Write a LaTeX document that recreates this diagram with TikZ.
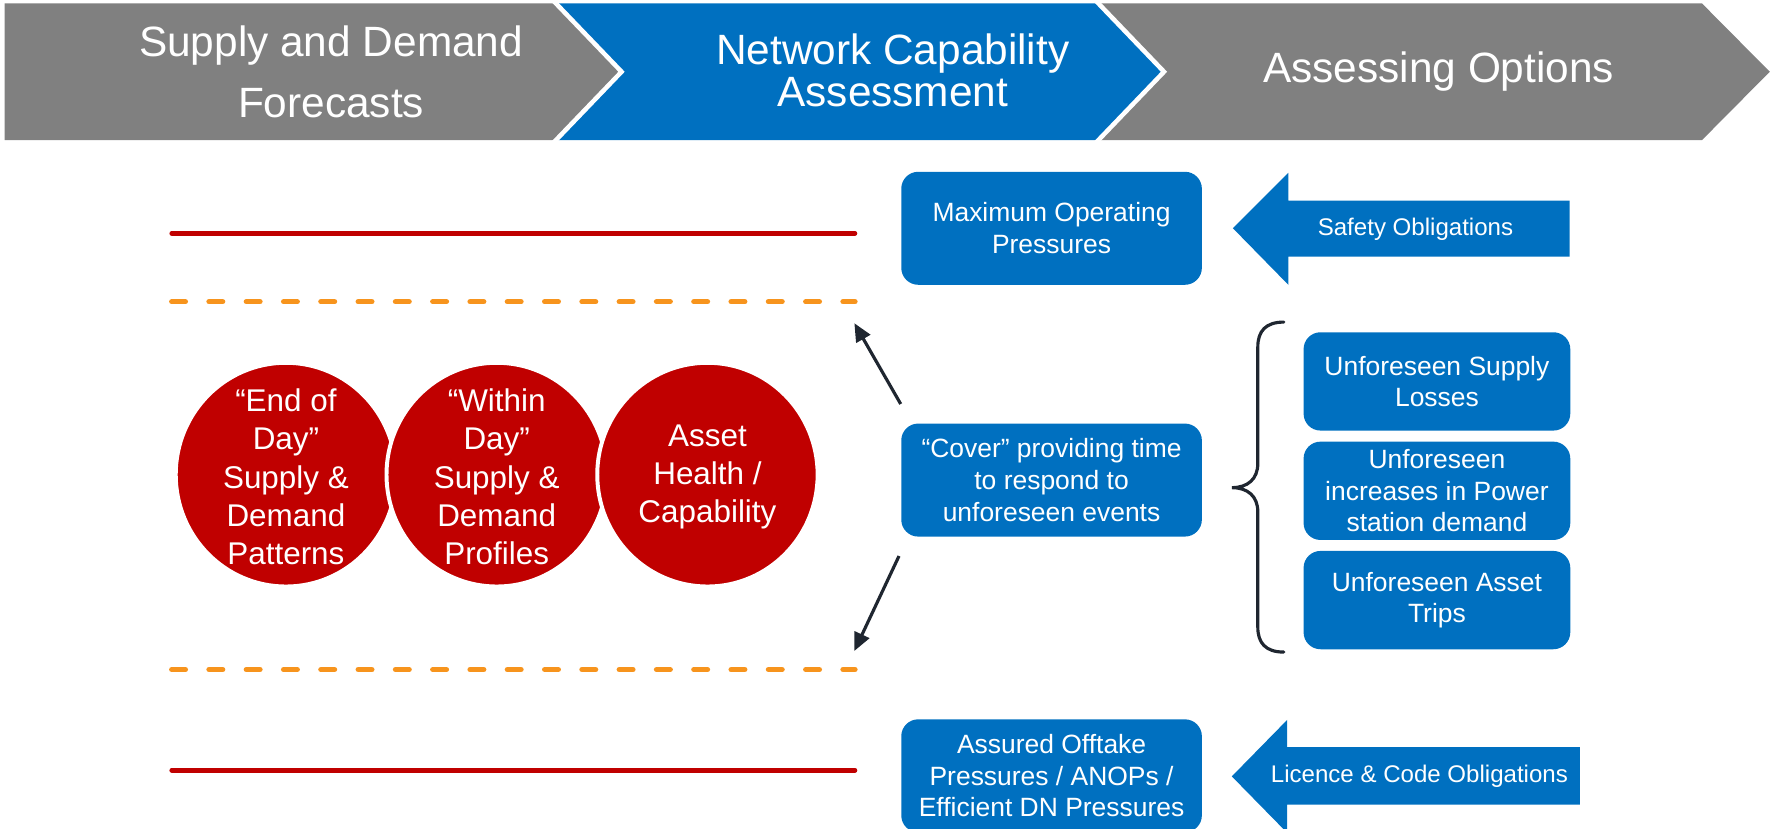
\documentclass[tikz,border=0pt]{standalone}
\usepackage{fontspec}
\setmainfont{Liberation Sans}
\usetikzlibrary{arrows.meta}
\definecolor{cblue}{HTML}{0070C0}
\definecolor{cgrey}{HTML}{808080}
\definecolor{cred}{HTML}{C00000}
\definecolor{corange}{HTML}{F7941D}
\definecolor{cdark}{HTML}{1F2630}
\begin{document}
\begin{tikzpicture}[x=1pt,y=-1pt,
  hdr/.style={text=white, align=center, inner sep=0pt, font=\fontsize{37.5}{54}\selectfont},
  hdrtwo/.style={hdr, font=\fontsize{37.5}{37}\selectfont},
  bbox/.style={fill=cblue, rounded corners=15pt, text=white, align=center, inner sep=0pt,
    font=\fontsize{23.4}{28}\selectfont, minimum width=266pt, minimum height=100pt},
  rbox/.style={bbox, minimum width=236pt, minimum height=87pt},
  arrtext/.style={text=white, inner sep=0pt, font=\fontsize{21.3}{26}\selectfont},
  circfill/.style={fill=cred, draw=white, line width=3.5pt},
  ctext/.style={text=white, align=center, inner sep=0pt, font=\fontsize{27.8}{34}\selectfont},
  redline/.style={draw=cred, line width=4.2pt, line cap=round},
  orangeline/.style={draw=corange, line width=4.8pt, line cap=round, dash pattern=on 12pt off 21pt},
  blkarrow/.style={draw=cdark, line width=2.8pt, -{Triangle[length=16pt,width=14pt]}},
  bracestyle/.style={draw=cdark, line width=2.8pt, line cap=round},
  sep/.style={draw=white, line width=4pt}
]
\useasboundingbox (0,0) rectangle (1568,733.5);
\clip (0,0) rectangle (1568,733.5);

% header chevrons
\fill[cgrey] (4,3) -- (490,3) -- (550,63.5) -- (490,124) -- (4,124) -- cycle;
\fill[cblue] (490,3) -- (970,3) -- (1030,63.5) -- (970,124) -- (490,124) -- (550,63.5) -- cycle;
\fill[cgrey] (970,3) -- (1506,3) -- (1566,63.5) -- (1506,124) -- (970,124) -- (1030,63.5) -- cycle;
\draw[sep] (490,1) -- (550,63.5) -- (490,126);
\draw[sep] (970,1) -- (1030,63.5) -- (970,126);
\node[hdr] (h1) at (293,63.5) {Supply and Demand\\Forecasts};
\node[hdrtwo] (h2) at (790,62) {Network Capability\\Assessment};
\node[hdr] (h3) at (1273,63.5) {Assessing Options};

% horizontal lines
\draw[redline] (152,206.5) -- (756.5,206.5);
\draw[orangeline] (152,267) -- (756.5,267);
\draw[orangeline] (152,592.5) -- (756.5,592.5);
\draw[redline] (152,681.5) -- (756.5,681.5);

% circles
\filldraw[circfill] (253,420) ellipse [x radius=97.5pt, y radius=99pt];
\node[ctext] (c1) at (253,422) {“End of\\Day”\\Supply \&\\Demand\\Patterns};
\filldraw[circfill] (439.5,420) ellipse [x radius=97.5pt, y radius=99pt];
\node[ctext] (c2) at (439.5,422) {“Within\\Day”\\Supply \&\\Demand\\Profiles};
\filldraw[circfill] (626,420) ellipse [x radius=97.5pt, y radius=99pt];
\node[ctext] (c3) at (626,422) {Asset\\Health /\\Capability};

% central boxes
\node[bbox] (mop) at (930.5,202) {Maximum Operating\\Pressures};
\node[bbox] (cover) at (930.5,424.8) {“Cover” providing time\\to respond to\\unforeseen events};
\node[bbox] (aop) at (930.5,686.5) {Assured Offtake\\Pressures / ANOPs /\\Efficient DN Pressures};

% right boxes
\node[rbox] (r1) at (1271.5,337.5) {Unforeseen Supply\\Losses};
\node[rbox] (r2) at (1271.5,434.3) {Unforeseen\\increases in Power\\station demand};
\node[rbox] (r3) at (1271.5,531) {Unforeseen Asset\\Trips};

% big arrows
\fill[cblue] (1091,202) -- (1140,153) -- (1140,177.5) -- (1389,177.5) -- (1389,227) -- (1140,227) -- (1140,252) -- cycle;
\node[arrtext] (safety) at (1252.5,203) {Safety Obligations};
\fill[cblue] (1090,687) -- (1139,637) -- (1139,661) -- (1398,661) -- (1398,712) -- (1139,712) -- (1139,737) -- cycle;
\node[arrtext] (licence) at (1256,687.3) {Licence \& Code Obligations};

% black arrows
\coordinate (upstart) at (797,357.5);
\coordinate (upend) at (756,286);
\coordinate (downstart) at (795.5,492);
\coordinate (downend) at (756,576);
\draw[blkarrow] (upstart) -- (upend);
\draw[blkarrow] (downstart) -- (downend);

% brace
\draw[bracestyle] (1136,285) .. controls (1120,285) and (1113,293) .. (1113,307) -- (1113,410)
  .. controls (1113,424) and (1104,431.5) .. (1090,431.5)
  .. controls (1104,431.5) and (1113,439) .. (1113,453) -- (1113,555)
  .. controls (1113,569) and (1120,577) .. (1136,577);
\end{tikzpicture}
\end{document}
